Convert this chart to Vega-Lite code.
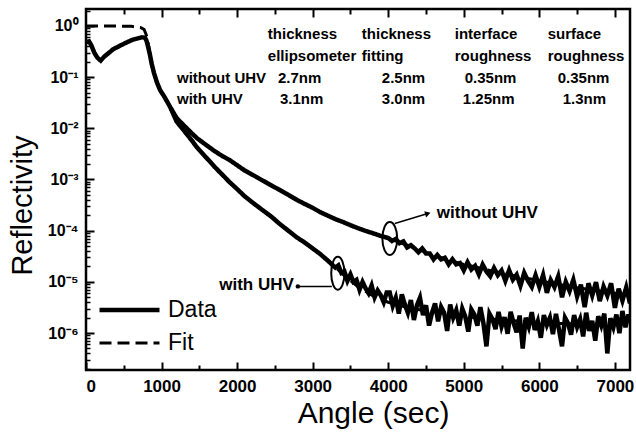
{
  "$schema": "https://vega.github.io/schema/vega-lite/v6.json",
  "width": 544,
  "height": 361,
  "autosize": {"type": "none"},
  "padding": {"left": 86, "top": 9, "right": 6, "bottom": 66},
  "background": "white",
  "config": {
    "view": {"stroke": "black", "strokeWidth": 2.5},
    "font": "Liberation Sans",
    "axis": {"grid": false, "domain": false, "tickColor": "black", "labelColor": "black", "titleColor": "black"}
  },
  "datasets": {
    "curves": [
      {"angle": 0, "R": 0.48, "sample": "without UHV", "kind": "Data"},
      {"angle": 40, "R": 0.5, "sample": "without UHV", "kind": "Data"},
      {"angle": 70, "R": 0.42, "sample": "without UHV", "kind": "Data"},
      {"angle": 110, "R": 0.3, "sample": "without UHV", "kind": "Data"},
      {"angle": 150, "R": 0.24, "sample": "without UHV", "kind": "Data"},
      {"angle": 195, "R": 0.21, "sample": "without UHV", "kind": "Data"},
      {"angle": 240, "R": 0.25, "sample": "without UHV", "kind": "Data"},
      {"angle": 280, "R": 0.28, "sample": "without UHV", "kind": "Data"},
      {"angle": 360, "R": 0.35, "sample": "without UHV", "kind": "Data"},
      {"angle": 490, "R": 0.44, "sample": "without UHV", "kind": "Data"},
      {"angle": 620, "R": 0.54, "sample": "without UHV", "kind": "Data"},
      {"angle": 740, "R": 0.6, "sample": "without UHV", "kind": "Data"},
      {"angle": 780, "R": 0.59, "sample": "without UHV", "kind": "Data"},
      {"angle": 800, "R": 0.52, "sample": "without UHV", "kind": "Data"},
      {"angle": 820, "R": 0.4, "sample": "without UHV", "kind": "Data"},
      {"angle": 845, "R": 0.28, "sample": "without UHV", "kind": "Data"},
      {"angle": 870, "R": 0.18, "sample": "without UHV", "kind": "Data"},
      {"angle": 900, "R": 0.12, "sample": "without UHV", "kind": "Data"},
      {"angle": 940, "R": 0.078, "sample": "without UHV", "kind": "Data"},
      {"angle": 980, "R": 0.056, "sample": "without UHV", "kind": "Data"},
      {"angle": 1030, "R": 0.043, "sample": "without UHV", "kind": "Data"},
      {"angle": 1070, "R": 0.034, "sample": "without UHV", "kind": "Data"},
      {"angle": 1120, "R": 0.025, "sample": "without UHV", "kind": "Data"},
      {"angle": 1200, "R": 0.0158, "sample": "without UHV", "kind": "Data"},
      {"angle": 1300, "R": 0.0112, "sample": "without UHV", "kind": "Data"},
      {"angle": 1400, "R": 0.008, "sample": "without UHV", "kind": "Data"},
      {"angle": 1470, "R": 0.0064, "sample": "without UHV", "kind": "Data"},
      {"angle": 1600, "R": 0.0046, "sample": "without UHV", "kind": "Data"},
      {"angle": 1700, "R": 0.0036, "sample": "without UHV", "kind": "Data"},
      {"angle": 1800, "R": 0.0029, "sample": "without UHV", "kind": "Data"},
      {"angle": 1900, "R": 0.0024, "sample": "without UHV", "kind": "Data"},
      {"angle": 2000, "R": 0.0019, "sample": "without UHV", "kind": "Data"},
      {"angle": 2100, "R": 0.0015, "sample": "without UHV", "kind": "Data"},
      {"angle": 2220, "R": 0.0012, "sample": "without UHV", "kind": "Data"},
      {"angle": 2340, "R": 0.00095, "sample": "without UHV", "kind": "Data"},
      {"angle": 2450, "R": 0.00077, "sample": "without UHV", "kind": "Data"},
      {"angle": 2550, "R": 0.00064, "sample": "without UHV", "kind": "Data"},
      {"angle": 2670, "R": 0.00051, "sample": "without UHV", "kind": "Data"},
      {"angle": 2790, "R": 0.0004, "sample": "without UHV", "kind": "Data"},
      {"angle": 2900, "R": 0.00033, "sample": "without UHV", "kind": "Data"},
      {"angle": 3000, "R": 0.00028, "sample": "without UHV", "kind": "Data"},
      {"angle": 3100, "R": 0.00023, "sample": "without UHV", "kind": "Data"},
      {"angle": 3190, "R": 0.0002, "sample": "without UHV", "kind": "Data"},
      {"angle": 3300, "R": 0.000168, "sample": "without UHV", "kind": "Data"},
      {"angle": 3400, "R": 0.000148, "sample": "without UHV", "kind": "Data"},
      {"angle": 3500, "R": 0.000128, "sample": "without UHV", "kind": "Data"},
      {"angle": 3600, "R": 0.000112, "sample": "without UHV", "kind": "Data"},
      {"angle": 3700, "R": 0.000099, "sample": "without UHV", "kind": "Data"},
      {"angle": 3800, "R": 0.000089, "sample": "without UHV", "kind": "Data"},
      {"angle": 3900, "R": 0.000079, "sample": "without UHV", "kind": "Data"},
      {"angle": 4000, "R": 7.2e-5, "sample": "without UHV", "kind": "Data"},
      {"angle": 4050, "R": 6.3e-5, "sample": "without UHV", "kind": "Data"},
      {"angle": 4100, "R": 6.9e-5, "sample": "without UHV", "kind": "Data"},
      {"angle": 4150, "R": 5.7e-5, "sample": "without UHV", "kind": "Data"},
      {"angle": 4200, "R": 6.2e-5, "sample": "without UHV", "kind": "Data"},
      {"angle": 4250, "R": 4.7e-5, "sample": "without UHV", "kind": "Data"},
      {"angle": 4300, "R": 5.2e-5, "sample": "without UHV", "kind": "Data"},
      {"angle": 4350, "R": 4.5e-5, "sample": "without UHV", "kind": "Data"},
      {"angle": 4400, "R": 3.8e-5, "sample": "without UHV", "kind": "Data"},
      {"angle": 4450, "R": 4.5e-5, "sample": "without UHV", "kind": "Data"},
      {"angle": 4500, "R": 3.6e-5, "sample": "without UHV", "kind": "Data"},
      {"angle": 4550, "R": 3.6e-5, "sample": "without UHV", "kind": "Data"},
      {"angle": 4600, "R": 2.75e-5, "sample": "without UHV", "kind": "Data"},
      {"angle": 4650, "R": 3.35e-5, "sample": "without UHV", "kind": "Data"},
      {"angle": 4700, "R": 2.75e-5, "sample": "without UHV", "kind": "Data"},
      {"angle": 4750, "R": 2.95e-5, "sample": "without UHV", "kind": "Data"},
      {"angle": 4800, "R": 2.2e-5, "sample": "without UHV", "kind": "Data"},
      {"angle": 4850, "R": 2.77e-5, "sample": "without UHV", "kind": "Data"},
      {"angle": 4900, "R": 2.2e-5, "sample": "without UHV", "kind": "Data"},
      {"angle": 4950, "R": 2.33e-5, "sample": "without UHV", "kind": "Data"},
      {"angle": 5000, "R": 1.68e-5, "sample": "without UHV", "kind": "Data"},
      {"angle": 5050, "R": 2.42e-5, "sample": "without UHV", "kind": "Data"},
      {"angle": 5100, "R": 1.75e-5, "sample": "without UHV", "kind": "Data"},
      {"angle": 5150, "R": 2.06e-5, "sample": "without UHV", "kind": "Data"},
      {"angle": 5200, "R": 1.4e-5, "sample": "without UHV", "kind": "Data"},
      {"angle": 5250, "R": 2.17e-5, "sample": "without UHV", "kind": "Data"},
      {"angle": 5300, "R": 1.59e-5, "sample": "without UHV", "kind": "Data"},
      {"angle": 5350, "R": 1.29e-5, "sample": "without UHV", "kind": "Data"},
      {"angle": 5400, "R": 1.86e-5, "sample": "without UHV", "kind": "Data"},
      {"angle": 5450, "R": 1.35e-5, "sample": "without UHV", "kind": "Data"},
      {"angle": 5500, "R": 1.67e-5, "sample": "without UHV", "kind": "Data"},
      {"angle": 5550, "R": 1.05e-5, "sample": "without UHV", "kind": "Data"},
      {"angle": 5600, "R": 1.69e-5, "sample": "without UHV", "kind": "Data"},
      {"angle": 5650, "R": 1.1e-5, "sample": "without UHV", "kind": "Data"},
      {"angle": 5700, "R": 1.38e-5, "sample": "without UHV", "kind": "Data"},
      {"angle": 5750, "R": 8.4e-6, "sample": "without UHV", "kind": "Data"},
      {"angle": 5800, "R": 1.5e-5, "sample": "without UHV", "kind": "Data"},
      {"angle": 5850, "R": 1.05e-5, "sample": "without UHV", "kind": "Data"},
      {"angle": 5900, "R": 8.0e-6, "sample": "without UHV", "kind": "Data"},
      {"angle": 5950, "R": 1.35e-5, "sample": "without UHV", "kind": "Data"},
      {"angle": 6000, "R": 8.0e-6, "sample": "without UHV", "kind": "Data"},
      {"angle": 6050, "R": 1.36e-5, "sample": "without UHV", "kind": "Data"},
      {"angle": 6100, "R": 6.1e-6, "sample": "without UHV", "kind": "Data"},
      {"angle": 6150, "R": 1.09e-5, "sample": "without UHV", "kind": "Data"},
      {"angle": 6200, "R": 7.9e-6, "sample": "without UHV", "kind": "Data"},
      {"angle": 6250, "R": 1.28e-5, "sample": "without UHV", "kind": "Data"},
      {"angle": 6300, "R": 5.0e-6, "sample": "without UHV", "kind": "Data"},
      {"angle": 6350, "R": 1.0e-5, "sample": "without UHV", "kind": "Data"},
      {"angle": 6400, "R": 6.6e-6, "sample": "without UHV", "kind": "Data"},
      {"angle": 6450, "R": 1.1e-5, "sample": "without UHV", "kind": "Data"},
      {"angle": 6500, "R": 5.2e-6, "sample": "without UHV", "kind": "Data"},
      {"angle": 6550, "R": 8.8e-6, "sample": "without UHV", "kind": "Data"},
      {"angle": 6600, "R": 3.2e-6, "sample": "without UHV", "kind": "Data"},
      {"angle": 6650, "R": 9.4e-6, "sample": "without UHV", "kind": "Data"},
      {"angle": 6700, "R": 5.4e-6, "sample": "without UHV", "kind": "Data"},
      {"angle": 6750, "R": 9.9e-6, "sample": "without UHV", "kind": "Data"},
      {"angle": 6800, "R": 4.2e-6, "sample": "without UHV", "kind": "Data"},
      {"angle": 6850, "R": 8.1e-6, "sample": "without UHV", "kind": "Data"},
      {"angle": 6900, "R": 5.4e-6, "sample": "without UHV", "kind": "Data"},
      {"angle": 6950, "R": 9.4e-6, "sample": "without UHV", "kind": "Data"},
      {"angle": 7000, "R": 3.1e-6, "sample": "without UHV", "kind": "Data"},
      {"angle": 7050, "R": 7.4e-6, "sample": "without UHV", "kind": "Data"},
      {"angle": 7100, "R": 4.3e-6, "sample": "without UHV", "kind": "Data"},
      {"angle": 7150, "R": 7.8e-6, "sample": "without UHV", "kind": "Data"},
      {"angle": 7200, "R": 3.8e-6, "sample": "without UHV", "kind": "Data"},

      {"angle": 1120, "R": 0.025, "sample": "with UHV", "kind": "Data"},
      {"angle": 1200, "R": 0.0135, "sample": "with UHV", "kind": "Data"},
      {"angle": 1300, "R": 0.0089, "sample": "with UHV", "kind": "Data"},
      {"angle": 1400, "R": 0.0058, "sample": "with UHV", "kind": "Data"},
      {"angle": 1470, "R": 0.0042, "sample": "with UHV", "kind": "Data"},
      {"angle": 1600, "R": 0.0026, "sample": "with UHV", "kind": "Data"},
      {"angle": 1700, "R": 0.00178, "sample": "with UHV", "kind": "Data"},
      {"angle": 1800, "R": 0.00126, "sample": "with UHV", "kind": "Data"},
      {"angle": 1900, "R": 0.00089, "sample": "with UHV", "kind": "Data"},
      {"angle": 2000, "R": 0.00065, "sample": "with UHV", "kind": "Data"},
      {"angle": 2100, "R": 0.00047, "sample": "with UHV", "kind": "Data"},
      {"angle": 2220, "R": 0.00034, "sample": "with UHV", "kind": "Data"},
      {"angle": 2340, "R": 0.00025, "sample": "with UHV", "kind": "Data"},
      {"angle": 2450, "R": 0.00019, "sample": "with UHV", "kind": "Data"},
      {"angle": 2550, "R": 0.000141, "sample": "with UHV", "kind": "Data"},
      {"angle": 2670, "R": 0.000102, "sample": "with UHV", "kind": "Data"},
      {"angle": 2790, "R": 0.000074, "sample": "with UHV", "kind": "Data"},
      {"angle": 2900, "R": 0.000058, "sample": "with UHV", "kind": "Data"},
      {"angle": 3000, "R": 0.000045, "sample": "with UHV", "kind": "Data"},
      {"angle": 3100, "R": 0.000035, "sample": "with UHV", "kind": "Data"},
      {"angle": 3200, "R": 0.000026, "sample": "with UHV", "kind": "Data"},
      {"angle": 3300, "R": 1.9e-5, "sample": "with UHV", "kind": "Data"},
      {"angle": 3340, "R": 2.1e-5, "sample": "with UHV", "kind": "Data"},
      {"angle": 3380, "R": 1.5e-5, "sample": "with UHV", "kind": "Data"},
      {"angle": 3420, "R": 1.6e-5, "sample": "with UHV", "kind": "Data"},
      {"angle": 3460, "R": 1.05e-5, "sample": "with UHV", "kind": "Data"},
      {"angle": 3500, "R": 1.4e-5, "sample": "with UHV", "kind": "Data"},
      {"angle": 3540, "R": 1.0e-5, "sample": "with UHV", "kind": "Data"},
      {"angle": 3580, "R": 1.1e-5, "sample": "with UHV", "kind": "Data"},
      {"angle": 3620, "R": 7.0e-6, "sample": "with UHV", "kind": "Data"},
      {"angle": 3660, "R": 1.0e-5, "sample": "with UHV", "kind": "Data"},
      {"angle": 3700, "R": 7.5e-6, "sample": "with UHV", "kind": "Data"},
      {"angle": 3740, "R": 6.0e-6, "sample": "with UHV", "kind": "Data"},
      {"angle": 3780, "R": 8.5e-6, "sample": "with UHV", "kind": "Data"},
      {"angle": 3820, "R": 5.0e-6, "sample": "with UHV", "kind": "Data"},
      {"angle": 3860, "R": 6.8e-6, "sample": "with UHV", "kind": "Data"},
      {"angle": 3900, "R": 5.5e-6, "sample": "with UHV", "kind": "Data"},
      {"angle": 3940, "R": 4.0e-6, "sample": "with UHV", "kind": "Data"},
      {"angle": 3980, "R": 6.2e-6, "sample": "with UHV", "kind": "Data"},
      {"angle": 4020, "R": 6.2e-6, "sample": "with UHV", "kind": "Data"},
      {"angle": 4060, "R": 3.4e-6, "sample": "with UHV", "kind": "Data"},
      {"angle": 4100, "R": 4.9e-6, "sample": "with UHV", "kind": "Data"},
      {"angle": 4140, "R": 2.4e-6, "sample": "with UHV", "kind": "Data"},
      {"angle": 4180, "R": 5.7e-6, "sample": "with UHV", "kind": "Data"},
      {"angle": 4220, "R": 3.6e-6, "sample": "with UHV", "kind": "Data"},
      {"angle": 4260, "R": 2.5e-6, "sample": "with UHV", "kind": "Data"},
      {"angle": 4300, "R": 4.4e-6, "sample": "with UHV", "kind": "Data"},
      {"angle": 4340, "R": 1.8e-6, "sample": "with UHV", "kind": "Data"},
      {"angle": 4380, "R": 3.5e-6, "sample": "with UHV", "kind": "Data"},
      {"angle": 4420, "R": 4.9e-6, "sample": "with UHV", "kind": "Data"},
      {"angle": 4460, "R": 2.25e-6, "sample": "with UHV", "kind": "Data"},
      {"angle": 4500, "R": 3.5e-6, "sample": "with UHV", "kind": "Data"},
      {"angle": 4540, "R": 1.4e-6, "sample": "with UHV", "kind": "Data"},
      {"angle": 4580, "R": 2.5e-6, "sample": "with UHV", "kind": "Data"},
      {"angle": 4620, "R": 3.8e-6, "sample": "with UHV", "kind": "Data"},
      {"angle": 4660, "R": 1.7e-6, "sample": "with UHV", "kind": "Data"},
      {"angle": 4700, "R": 3.25e-6, "sample": "with UHV", "kind": "Data"},
      {"angle": 4740, "R": 2.5e-6, "sample": "with UHV", "kind": "Data"},
      {"angle": 4780, "R": 1.1e-6, "sample": "with UHV", "kind": "Data"},
      {"angle": 4820, "R": 3.6e-6, "sample": "with UHV", "kind": "Data"},
      {"angle": 4860, "R": 2.0e-6, "sample": "with UHV", "kind": "Data"},
      {"angle": 4900, "R": 2.8e-6, "sample": "with UHV", "kind": "Data"},
      {"angle": 4940, "R": 1.4e-6, "sample": "with UHV", "kind": "Data"},
      {"angle": 4980, "R": 3.0e-6, "sample": "with UHV", "kind": "Data"},
      {"angle": 5020, "R": 2.1e-6, "sample": "with UHV", "kind": "Data"},
      {"angle": 5060, "R": 1.07e-6, "sample": "with UHV", "kind": "Data"},
      {"angle": 5100, "R": 2.9e-6, "sample": "with UHV", "kind": "Data"},
      {"angle": 5140, "R": 2.3e-6, "sample": "with UHV", "kind": "Data"},
      {"angle": 5180, "R": 1.4e-6, "sample": "with UHV", "kind": "Data"},
      {"angle": 5220, "R": 3.2e-6, "sample": "with UHV", "kind": "Data"},
      {"angle": 5260, "R": 1.56e-6, "sample": "with UHV", "kind": "Data"},
      {"angle": 5300, "R": 5.5e-7, "sample": "with UHV", "kind": "Data"},
      {"angle": 5340, "R": 2.4e-6, "sample": "with UHV", "kind": "Data"},
      {"angle": 5380, "R": 1.86e-6, "sample": "with UHV", "kind": "Data"},
      {"angle": 5420, "R": 1.2e-6, "sample": "with UHV", "kind": "Data"},
      {"angle": 5460, "R": 2.6e-6, "sample": "with UHV", "kind": "Data"},
      {"angle": 5500, "R": 1.35e-6, "sample": "with UHV", "kind": "Data"},
      {"angle": 5540, "R": 2.05e-6, "sample": "with UHV", "kind": "Data"},
      {"angle": 5580, "R": 9.7e-7, "sample": "with UHV", "kind": "Data"},
      {"angle": 5620, "R": 2.6e-6, "sample": "with UHV", "kind": "Data"},
      {"angle": 5660, "R": 1.56e-6, "sample": "with UHV", "kind": "Data"},
      {"angle": 5700, "R": 1.03e-6, "sample": "with UHV", "kind": "Data"},
      {"angle": 5740, "R": 2.2e-6, "sample": "with UHV", "kind": "Data"},
      {"angle": 5780, "R": 5.0e-7, "sample": "with UHV", "kind": "Data"},
      {"angle": 5820, "R": 2.0e-6, "sample": "with UHV", "kind": "Data"},
      {"angle": 5860, "R": 1.33e-6, "sample": "with UHV", "kind": "Data"},
      {"angle": 5900, "R": 2.56e-6, "sample": "with UHV", "kind": "Data"},
      {"angle": 5940, "R": 1.15e-6, "sample": "with UHV", "kind": "Data"},
      {"angle": 5980, "R": 1.7e-6, "sample": "with UHV", "kind": "Data"},
      {"angle": 6020, "R": 8.1e-7, "sample": "with UHV", "kind": "Data"},
      {"angle": 6060, "R": 2.25e-6, "sample": "with UHV", "kind": "Data"},
      {"angle": 6100, "R": 1.44e-6, "sample": "with UHV", "kind": "Data"},
      {"angle": 6140, "R": 2.0e-6, "sample": "with UHV", "kind": "Data"},
      {"angle": 6180, "R": 9.5e-7, "sample": "with UHV", "kind": "Data"},
      {"angle": 6220, "R": 2.37e-6, "sample": "with UHV", "kind": "Data"},
      {"angle": 6260, "R": 1.18e-6, "sample": "with UHV", "kind": "Data"},
      {"angle": 6300, "R": 5.5e-7, "sample": "with UHV", "kind": "Data"},
      {"angle": 6340, "R": 2.0e-6, "sample": "with UHV", "kind": "Data"},
      {"angle": 6380, "R": 1.55e-6, "sample": "with UHV", "kind": "Data"},
      {"angle": 6420, "R": 9.3e-7, "sample": "with UHV", "kind": "Data"},
      {"angle": 6460, "R": 2.25e-6, "sample": "with UHV", "kind": "Data"},
      {"angle": 6500, "R": 1.32e-6, "sample": "with UHV", "kind": "Data"},
      {"angle": 6540, "R": 1.86e-6, "sample": "with UHV", "kind": "Data"},
      {"angle": 6580, "R": 8.6e-7, "sample": "with UHV", "kind": "Data"},
      {"angle": 6620, "R": 2.5e-6, "sample": "with UHV", "kind": "Data"},
      {"angle": 6660, "R": 1.1e-6, "sample": "with UHV", "kind": "Data"},
      {"angle": 6700, "R": 1.73e-6, "sample": "with UHV", "kind": "Data"},
      {"angle": 6740, "R": 7.1e-7, "sample": "with UHV", "kind": "Data"},
      {"angle": 6780, "R": 2.13e-6, "sample": "with UHV", "kind": "Data"},
      {"angle": 6820, "R": 1.42e-6, "sample": "with UHV", "kind": "Data"},
      {"angle": 6860, "R": 2.4e-6, "sample": "with UHV", "kind": "Data"},
      {"angle": 6900, "R": 4.0e-7, "sample": "with UHV", "kind": "Data"},
      {"angle": 6940, "R": 1.96e-6, "sample": "with UHV", "kind": "Data"},
      {"angle": 6980, "R": 1.3e-6, "sample": "with UHV", "kind": "Data"},
      {"angle": 7020, "R": 2.3e-6, "sample": "with UHV", "kind": "Data"},
      {"angle": 7060, "R": 1.0e-6, "sample": "with UHV", "kind": "Data"},
      {"angle": 7100, "R": 2.7e-6, "sample": "with UHV", "kind": "Data"},
      {"angle": 7140, "R": 1.3e-6, "sample": "with UHV", "kind": "Data"},
      {"angle": 7180, "R": 2.3e-6, "sample": "with UHV", "kind": "Data"},
      {"angle": 7200, "R": 1.78e-6, "sample": "with UHV", "kind": "Data"},

      {"angle": 0, "R": 1.0, "sample": "without UHV", "kind": "Fit"},
      {"angle": 300, "R": 1.0, "sample": "without UHV", "kind": "Fit"},
      {"angle": 600, "R": 0.98, "sample": "without UHV", "kind": "Fit"},
      {"angle": 720, "R": 0.93, "sample": "without UHV", "kind": "Fit"},
      {"angle": 770, "R": 0.85, "sample": "without UHV", "kind": "Fit"},
      {"angle": 800, "R": 0.65, "sample": "without UHV", "kind": "Fit"},
      {"angle": 830, "R": 0.4, "sample": "without UHV", "kind": "Fit"},
      {"angle": 860, "R": 0.22, "sample": "without UHV", "kind": "Fit"},
      {"angle": 900, "R": 0.12, "sample": "without UHV", "kind": "Fit"},
      {"angle": 940, "R": 0.078, "sample": "without UHV", "kind": "Fit"},
      {"angle": 980, "R": 0.056, "sample": "without UHV", "kind": "Fit"},
      {"angle": 1030, "R": 0.043, "sample": "without UHV", "kind": "Fit"},
      {"angle": 1070, "R": 0.034, "sample": "without UHV", "kind": "Fit"},
      {"angle": 1120, "R": 0.025, "sample": "without UHV", "kind": "Fit"},
      {"angle": 1200, "R": 0.0158, "sample": "without UHV", "kind": "Fit"},
      {"angle": 1300, "R": 0.0112, "sample": "without UHV", "kind": "Fit"},
      {"angle": 1470, "R": 0.0064, "sample": "without UHV", "kind": "Fit"},
      {"angle": 1700, "R": 0.0036, "sample": "without UHV", "kind": "Fit"},
      {"angle": 1900, "R": 0.0024, "sample": "without UHV", "kind": "Fit"},
      {"angle": 2100, "R": 0.0015, "sample": "without UHV", "kind": "Fit"},
      {"angle": 2340, "R": 0.00095, "sample": "without UHV", "kind": "Fit"},
      {"angle": 2550, "R": 0.00064, "sample": "without UHV", "kind": "Fit"},
      {"angle": 2790, "R": 0.0004, "sample": "without UHV", "kind": "Fit"},
      {"angle": 3000, "R": 0.00028, "sample": "without UHV", "kind": "Fit"},
      {"angle": 3190, "R": 0.0002, "sample": "without UHV", "kind": "Fit"},
      {"angle": 3400, "R": 0.000148, "sample": "without UHV", "kind": "Fit"},
      {"angle": 3600, "R": 0.000112, "sample": "without UHV", "kind": "Fit"},
      {"angle": 3800, "R": 0.000089, "sample": "without UHV", "kind": "Fit"},
      {"angle": 4000, "R": 0.000071, "sample": "without UHV", "kind": "Fit"},
      {"angle": 4300, "R": 0.000049, "sample": "without UHV", "kind": "Fit"},
      {"angle": 4600, "R": 0.000033, "sample": "without UHV", "kind": "Fit"},
      {"angle": 5000, "R": 0.000022, "sample": "without UHV", "kind": "Fit"},
      {"angle": 5500, "R": 0.0000148, "sample": "without UHV", "kind": "Fit"},
      {"angle": 6000, "R": 0.0000105, "sample": "without UHV", "kind": "Fit"},
      {"angle": 6500, "R": 0.0000077, "sample": "without UHV", "kind": "Fit"},
      {"angle": 7000, "R": 0.000006, "sample": "without UHV", "kind": "Fit"},
      {"angle": 7200, "R": 0.0000055, "sample": "without UHV", "kind": "Fit"},

      {"angle": 1120, "R": 0.025, "sample": "with UHV", "kind": "Fit"},
      {"angle": 1200, "R": 0.0135, "sample": "with UHV", "kind": "Fit"},
      {"angle": 1300, "R": 0.0089, "sample": "with UHV", "kind": "Fit"},
      {"angle": 1470, "R": 0.0042, "sample": "with UHV", "kind": "Fit"},
      {"angle": 1700, "R": 0.00178, "sample": "with UHV", "kind": "Fit"},
      {"angle": 1900, "R": 0.00089, "sample": "with UHV", "kind": "Fit"},
      {"angle": 2100, "R": 0.00047, "sample": "with UHV", "kind": "Fit"},
      {"angle": 2340, "R": 0.00025, "sample": "with UHV", "kind": "Fit"},
      {"angle": 2550, "R": 0.000141, "sample": "with UHV", "kind": "Fit"},
      {"angle": 2790, "R": 0.000074, "sample": "with UHV", "kind": "Fit"},
      {"angle": 3000, "R": 0.000045, "sample": "with UHV", "kind": "Fit"},
      {"angle": 3200, "R": 0.000027, "sample": "with UHV", "kind": "Fit"},
      {"angle": 3400, "R": 0.000014, "sample": "with UHV", "kind": "Fit"},
      {"angle": 3600, "R": 0.000008, "sample": "with UHV", "kind": "Fit"},
      {"angle": 3800, "R": 0.0000053, "sample": "with UHV", "kind": "Fit"},
      {"angle": 4000, "R": 0.000004, "sample": "with UHV", "kind": "Fit"},
      {"angle": 4300, "R": 0.000003, "sample": "with UHV", "kind": "Fit"},
      {"angle": 4600, "R": 0.0000026, "sample": "with UHV", "kind": "Fit"},
      {"angle": 5000, "R": 0.0000021, "sample": "with UHV", "kind": "Fit"},
      {"angle": 5500, "R": 0.0000018, "sample": "with UHV", "kind": "Fit"},
      {"angle": 6000, "R": 0.0000016, "sample": "with UHV", "kind": "Fit"},
      {"angle": 6500, "R": 0.0000015, "sample": "with UHV", "kind": "Fit"},
      {"angle": 7200, "R": 0.0000015, "sample": "with UHV", "kind": "Fit"}
    ],
    "table": [
      {"angle": 2407, "R": 0.698, "label": "thickness"},
      {"angle": 3651, "R": 0.698, "label": "thickness"},
      {"angle": 4881, "R": 0.698, "label": "interface"},
      {"angle": 6111, "R": 0.698, "label": "surface"},
      {"angle": 2407, "R": 0.26, "label": "ellipsometer"},
      {"angle": 3651, "R": 0.26, "label": "fitting"},
      {"angle": 4881, "R": 0.26, "label": "roughness"},
      {"angle": 6111, "R": 0.26, "label": "roughness"},
      {"angle": 1204, "R": 0.0968, "label": "without UHV"},
      {"angle": 2540, "R": 0.0968, "label": "2.7nm"},
      {"angle": 3915, "R": 0.0968, "label": "2.5nm"},
      {"angle": 5013, "R": 0.0968, "label": "0.35nm"},
      {"angle": 6243, "R": 0.0968, "label": "0.35nm"},
      {"angle": 1204, "R": 0.0378, "label": "with UHV"},
      {"angle": 2566, "R": 0.0378, "label": "3.1nm"},
      {"angle": 3915, "R": 0.0378, "label": "3.0nm"},
      {"angle": 4987, "R": 0.0378, "label": "1.25nm"},
      {"angle": 6310, "R": 0.0378, "label": "1.3nm"}
    ],
    "ovals": [
      {"angle": 4021, "R": 7.05e-5, "name": "without UHV"},
      {"angle": 3333, "R": 1.47e-5, "name": "with UHV"}
    ],
    "pointers": [
      {"angle": 4087, "R": 1.38e-4, "angle2": 4524, "R2": 2.16e-4},
      {"angle": 3254, "R": 8.17e-6, "angle2": 2804, "R2": 8.17e-6}
    ]
  },
  "layer": [
    {
      "data": {"name": "curves"},
      "mark": {"type": "line", "clip": true, "color": "black"},
      "encoding": {
        "x": {
          "field": "angle", "type": "quantitative",
          "scale": {"domain": [0, 7200], "nice": false, "zero": false},
          "axis": {
            "orient": "bottom",
            "values": [0, 1000, 2000, 3000, 4000, 5000, 6000, 7000],
            "format": "d",
            "labelFontSize": 17, "labelFontWeight": "bold",
            "tickSize": -8, "tickWidth": 2,
            "labelPadding": 16,
            "title": "Angle (sec)", "titleFontSize": 30, "titleFontWeight": "normal",
            "titleX": 287, "titleY": 43, "titleBaseline": "middle", "titleAlign": "center"
          }
        },
        "y": {
          "field": "R", "type": "quantitative",
          "scale": {"type": "log", "domain": [1.9e-7, 2.14], "nice": false},
          "axis": {
            "orient": "left",
            "values": [0.000001, 0.00001, 0.0001, 0.001, 0.01, 0.1, 1],
            "labelExpr": "datum.value > 0.5 ? '10⁰' : datum.value > 0.05 ? '10⁻¹' : datum.value > 0.005 ? '10⁻²' : datum.value > 0.0005 ? '10⁻³' : datum.value > 0.00005 ? '10⁻⁴' : datum.value > 0.000005 ? '10⁻⁵' : '10⁻⁶'",
            "labelFontSize": 16, "labelFontWeight": "bold",
            "tickSize": -8, "tickWidth": 2,
            "labelPadding": 16,
            "title": "Reflectivity", "titleFontSize": 29, "titleFontWeight": "normal",
            "titleX": -64, "titleY": 196, "titleAngle": 270, "titleBaseline": "middle", "titleAlign": "center"
          }
        },
        "detail": {"field": "sample"},
        "strokeDash": {
          "field": "kind", "type": "nominal",
          "scale": {"domain": ["Data", "Fit"], "range": [[1, 0], [12, 6]]},
          "legend": {
            "orient": "none", "legendX": 11, "legendY": 290, "title": null,
            "symbolType": "stroke", "symbolSize": 3600, "symbolStrokeWidth": 3.5,
            "symbolStrokeColor": "black", "labelFontSize": 23, "labelColor": "black",
            "clipHeight": 22, "rowPadding": 10, "labelOffset": 6
          }
        },
        "strokeWidth": {
          "field": "kind", "type": "nominal",
          "scale": {"domain": ["Data", "Fit"], "range": [4.5, 3]},
          "legend": null
        }
      }
    },
    {
      "data": {"name": "table"},
      "mark": {"type": "text", "align": "left", "baseline": "middle", "fontSize": 15, "fontWeight": "bold", "color": "black"},
      "encoding": {
        "x": {"field": "angle", "type": "quantitative", "axis": {"orient": "bottom", "values": [500, 1500, 2500, 3500, 4500, 5500, 6500], "labels": false, "tickSize": -5, "tickWidth": 2, "title": null}},
        "y": {"field": "R", "type": "quantitative", "axis": {"orient": "left", "values": [2e-7, 3e-7, 4e-7, 5e-7, 6e-7, 7e-7, 8e-7, 9e-7, 2e-6, 3e-6, 4e-6, 5e-6, 6e-6, 7e-6, 8e-6, 9e-6, 2e-5, 3e-5, 4e-5, 5e-5, 6e-5, 7e-5, 8e-5, 9e-5, 2e-4, 3e-4, 4e-4, 5e-4, 6e-4, 7e-4, 8e-4, 9e-4, 0.002, 0.003, 0.004, 0.005, 0.006, 0.007, 0.008, 0.009, 0.02, 0.03, 0.04, 0.05, 0.06, 0.07, 0.08, 0.09, 0.2, 0.3, 0.4, 0.5, 0.6, 0.7, 0.8, 0.9, 2], "labels": false, "tickSize": -4, "tickWidth": 1.5, "title": null}},
        "text": {"field": "label"}
      }
    },
    {
      "data": {"name": "ovals"},
      "mark": {"type": "point", "filled": false, "color": "black", "strokeWidth": 2, "opacity": 1},
      "encoding": {
        "x": {"field": "angle", "type": "quantitative", "axis": {"orient": "top", "values": [1000, 2000, 3000, 4000, 5000, 6000, 7000], "labels": false, "tickSize": -8, "tickWidth": 2, "title": null}},
        "y": {"field": "R", "type": "quantitative", "axis": null},
        "shape": {"field": "name", "type": "nominal", "legend": null,
          "scale": {"domain": ["without UHV", "with UHV"], "range": ["M0,-1A0.45,1,0,1,1,0,1A0.45,1,0,1,1,0,-1Z", "M0,-1A0.4,1,0,1,1,0,1A0.4,1,0,1,1,0,-1Z"]}},
        "size": {"value": 1089}
      }
    },
    {
      "data": {"name": "pointers"},
      "mark": {"type": "rule", "color": "black", "strokeWidth": 1.5},
      "encoding": {
        "x": {"field": "angle", "type": "quantitative", "axis": {"orient": "top", "values": [500, 1500, 2500, 3500, 4500, 5500, 6500], "labels": false, "tickSize": -5, "tickWidth": 2, "title": null}},
        "y": {"field": "R", "type": "quantitative", "axis": null},
        "x2": {"field": "angle2"},
        "y2": {"field": "R2"}
      }
    },
    {
      "data": {"values": [{"angle": 4643, "R": 2.26e-4, "label": "without UHV"}]},
      "mark": {"type": "text", "align": "left", "baseline": "middle", "fontSize": 17, "fontWeight": "bold", "color": "black"},
      "encoding": {
        "x": {"field": "angle", "type": "quantitative", "axis": null},
        "y": {"field": "R", "type": "quantitative", "axis": null},
        "text": {"field": "label"}
      }
    },
    {
      "data": {"values": [{"angle": 2751, "R": 8.55e-6, "label": "with UHV"}]},
      "mark": {"type": "text", "align": "right", "baseline": "middle", "fontSize": 17, "fontWeight": "bold", "color": "black"},
      "encoding": {
        "x": {"field": "angle", "type": "quantitative", "axis": null},
        "y": {"field": "R", "type": "quantitative", "axis": null},
        "text": {"field": "label"}
      }
    },
    {
      "data": {"values": [{"angle": 4524, "R": 2.16e-4}]},
      "mark": {"type": "point", "shape": "triangle-right", "filled": true, "color": "black", "size": 40, "angle": -17, "opacity": 1},
      "encoding": {
        "x": {"field": "angle", "type": "quantitative", "axis": null},
        "y": {"field": "R", "type": "quantitative", "axis": null}
      }
    },
    {
      "data": {"values": [{"angle": 2804, "R": 8.17e-6}]},
      "mark": {"type": "point", "shape": "circle", "filled": true, "color": "black", "size": 20, "opacity": 1},
      "encoding": {
        "x": {"field": "angle", "type": "quantitative", "axis": null},
        "y": {"field": "R", "type": "quantitative", "axis": null}
      }
    }
  ],
  "resolve": {"axis": {"x": "independent", "y": "independent"}}
}
